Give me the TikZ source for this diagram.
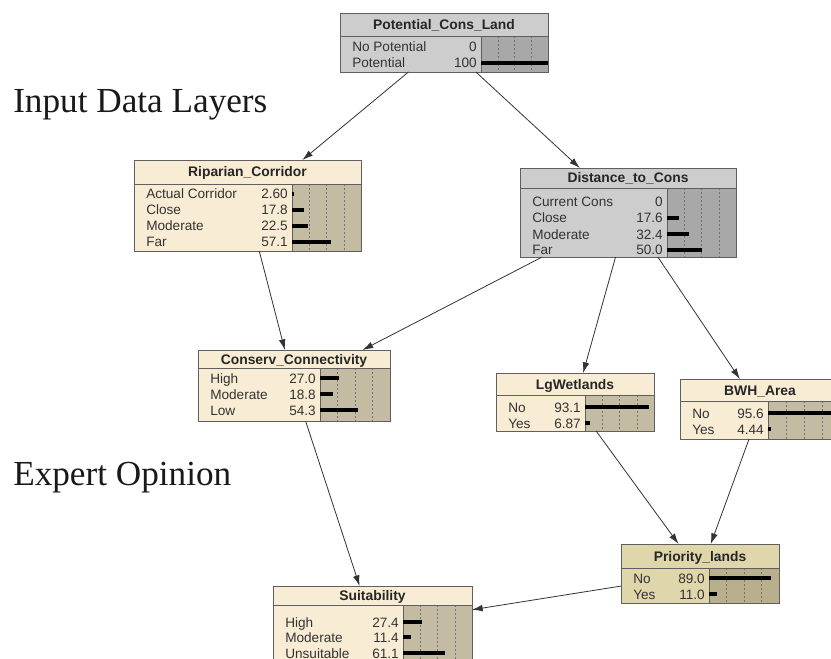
\documentclass[tikz,border=0pt]{standalone}
\usepackage{fontspec}
\setmainfont{Liberation Serif}
\newfontfamily\bnsans{Liberation Sans}
\usetikzlibrary{fit,arrows.meta}
\definecolor{creamBody}{RGB}{248,237,212}
\definecolor{creamBar}{RGB}{196,187,163}
\definecolor{grayBody}{RGB}{205,205,205}
\definecolor{grayBar}{RGB}{168,168,168}
\definecolor{prioBody}{RGB}{224,214,172}
\definecolor{prioBar}{RGB}{184,175,140}
\definecolor{frameCol}{RGB}{95,95,95}
\tikzset{
  boxln/.style={draw=frameCol, line width=0.7pt},
  gridln/.style={draw=black!55, line width=0.35pt, dash pattern=on 1.6pt off 1.4pt},
  titletext/.style={font=\bnsans\bfseries\fontsize{10.4pt}{12pt}\selectfont, text=black!85, inner sep=0pt, anchor=base},
  rowtext/.style={font=\bnsans\fontsize{10.2pt}{12pt}\selectfont, text=black!80, inner sep=0pt},
  bigtext/.style={font=\fontsize{26.4pt}{30pt}\selectfont, text=black!90, inner sep=0pt, anchor=base west},
  arr/.style={draw=black!80, line width=0.6pt, -{Latex[length=8pt,width=5pt]}},
}
\newcommand\bnBox[9]{%
  \node[fit={(#2,#3) (#4,#6)}, inner sep=0pt, outer sep=0pt, fill=#8Body, rectangle] (#1) {};
  \fill[#8Bar] (#7,#5) rectangle (#4,#6);
  \foreach \f in {0.25,0.5,0.75} \draw[gridln] ({#7+\f*(#4-#7)},#5) -- ({#7+\f*(#4-#7)},#6);
  \draw[boxln] (#2,#5) -- (#4,#5) (#7,#5) -- (#7,#6);
  \draw[boxln] (#2,#3) rectangle (#4,#6);
  \node[titletext] (#1-title) at ({(#2+#4)/2},{(#3+#5)/2+5}) {#9};
  \def\bnL{#2}\def\bnR{#4}\def\bnB{#7}\def\bnN{#1}%
}
\newcommand\bnRow[5]{%
  \node[rowtext, anchor=base west] (\bnN-l#1) at ({\bnL+12},{#2+5}) {#3};
  \node[rowtext, anchor=base east] (\bnN-v#1) at ({\bnB-4},{#2+5}) {#4};
  \ifdim #5pt>0pt \fill[black] (\bnB,{#2-2}) rectangle ({\bnB+#5/100*(\bnR-\bnB)},{#2+2});\fi
}
\begin{document}
\begin{tikzpicture}[x=0.75pt,y=-0.75pt]
\useasboundingbox (0,0) rectangle (831,659);
\clip (0,0) rectangle (831,659);
\fill[white] (0,0) rectangle (831,659);

\node[bigtext] (lab1) at (13,113) {Input Data Layers};
\node[bigtext] (lab2) at (13,485) {Expert Opinion};

\bnBox{pot}{340}{13}{548}{36}{72}{481}{gray}{Potential\_Cons\_Land}
\bnRow{1}{47}{No Potential}{0}{0}
\bnRow{2}{63}{Potential}{100}{100}

\bnBox{rip}{134}{160}{361}{184}{251}{292}{cream}{Riparian\_Corridor}
\bnRow{1}{194}{Actual Corridor}{2.60}{2.60}
\bnRow{2}{210}{Close}{17.8}{17.8}
\bnRow{3}{226}{Moderate}{22.5}{22.5}
\bnRow{4}{242}{Far}{57.1}{57.1}

\bnBox{dist}{520}{168}{736}{188}{257}{667}{gray}{Distance\_to\_Cons}
\bnRow{1}{202}{Current Cons}{0}{0}
\bnRow{2}{218}{Close}{17.6}{17.6}
\bnRow{3}{234}{Moderate}{32.4}{32.4}
\bnRow{4}{250}{Far}{50.0}{50.0}

\bnBox{conn}{198}{350}{390}{368}{421}{320}{cream}{Conserv\_Connectivity}
\bnRow{1}{378}{High}{27.0}{27.0}
\bnRow{2}{394}{Moderate}{18.8}{18.8}
\bnRow{3}{410}{Low}{54.3}{54.3}

\bnBox{lgw}{496}{373}{654}{395}{431}{585}{cream}{LgWetlands}
\bnRow{1}{407}{No}{93.1}{93.1}
\bnRow{2}{423}{Yes}{6.87}{6.87}

\bnBox{bwh}{680}{379}{840}{401}{439}{768}{cream}{BWH\_Area}
\bnRow{1}{413}{No}{95.6}{95.6}
\bnRow{2}{429}{Yes}{4.44}{4.44}

\bnBox{prio}{621}{544}{779}{568}{603}{709}{prio}{Priority\_lands}
\bnRow{1}{578}{No}{89.0}{89.0}
\bnRow{2}{594}{Yes}{11.0}{11.0}

\bnBox{suit}{273}{586}{472}{605}{665}{403}{cream}{Suitability}
\bnRow{1}{622}{High}{27.4}{27.4}
\bnRow{2}{637}{Moderate}{11.4}{11.4}
\bnRow{3}{653}{Unsuitable}{61.1}{61.1}

\draw[arr] (pot) -- (rip);
\draw[arr] (pot) -- (dist);
\draw[arr] (rip) -- (conn);
\draw[arr] (dist) -- (conn);
\draw[arr] (dist) -- (lgw);
\draw[arr] (dist) -- (bwh);
\draw[arr] (conn) -- (suit);
\draw[arr] (lgw) -- (prio);
\draw[arr] (bwh) -- (prio);
\draw[arr] (prio) -- (suit);
\end{tikzpicture}
\end{document}
